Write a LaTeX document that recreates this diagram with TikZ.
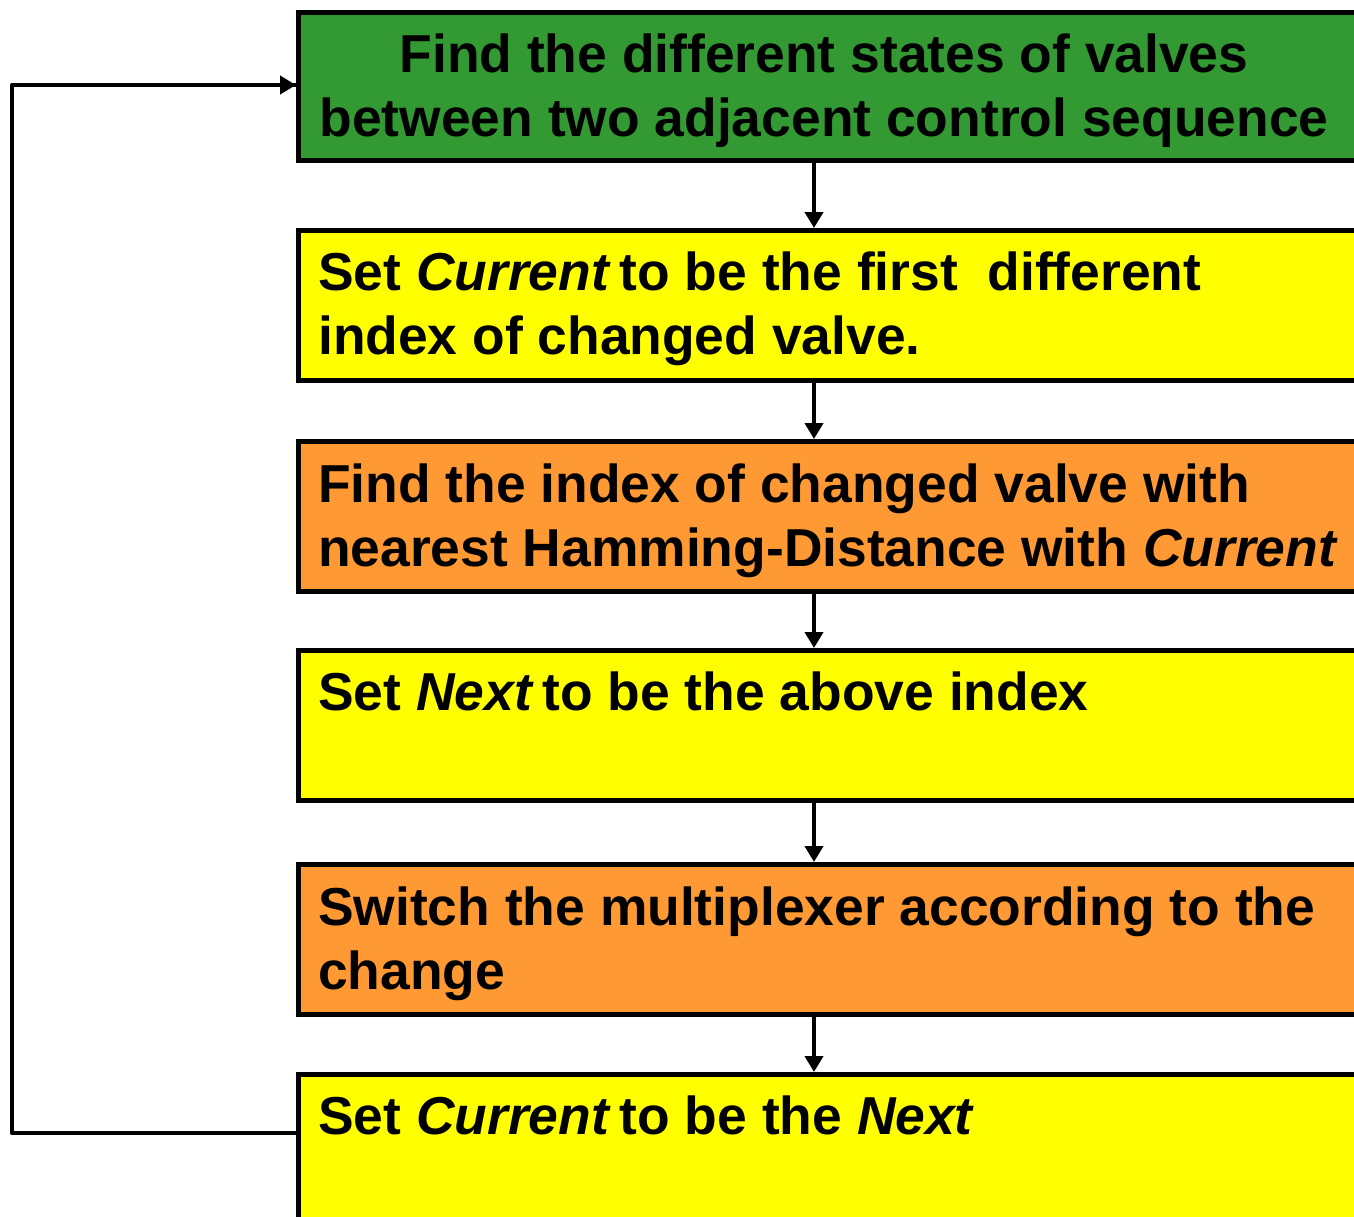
\documentclass[tikz,border=0pt]{standalone}
\usepackage{fontspec}
\setmainfont{Liberation Sans}
\usetikzlibrary{arrows.meta,calc}
\definecolor{stepgreen}{HTML}{339933}
\definecolor{stepyellow}{HTML}{FFFF00}
\definecolor{steporange}{HTML}{FF9933}
\newcommand{\flowtext}[1]{\parbox[t]{1100pt}{\fontsize{53.4}{64}\selectfont\bfseries #1}}
\newcommand{\flowtextc}[1]{\parbox[t]{1100pt}{\centering\fontsize{53.4}{64}\selectfont\bfseries #1}}
\begin{document}
\begin{tikzpicture}[x=1pt,y=-1pt,
  stepbox/.style={draw=black, line width=4.5pt, rectangle, anchor=north west,
    minimum width=1200pt, inner sep=0pt},
  steptext/.style={anchor=base west, inner sep=0pt},
  arr/.style={draw=black, line width=4.5pt,
    -{Triangle[length=16pt,width=18pt]}},
  loopline/.style={draw=black, line width=4.5pt, line join=round}]
  \useasboundingbox (0,0) rectangle (1354,1216);
  \clip (0,0) rectangle (1354,1216);
  \fill[white] (0,0) rectangle (1354,1216);

  % process boxes
  \node[stepbox, fill=stepgreen,  minimum height=148pt] (b1) at (296,10) {};
  \node[stepbox, fill=stepyellow, minimum height=150pt] (b2) at (296,228) {};
  \node[stepbox, fill=steporange, minimum height=150pt] (b3) at (296,439) {};
  \node[stepbox, fill=stepyellow, minimum height=150pt] (b4) at (296,648) {};
  \node[stepbox, fill=steporange, minimum height=150pt] (b5) at (296,862) {};
  \node[stepbox, fill=stepyellow, minimum height=180pt] (b6) at (296,1072) {};

  % box texts
  \node[anchor=base, inner sep=0pt] (t1) at (824,72)
    {\flowtextc{Find the different states of valves\\between two adjacent control sequence}};
  \node[steptext] (t2) at (318,290)
    {\flowtext{Set \textit{Current}\,to be the first\ \ different\\index of changed valve.}};
  \node[steptext] (t3) at (318,502)
    {\flowtext{Find the index of changed valve with\\nearest Hamming-Distance with \textit{Current}}};
  \node[steptext] (t4) at (318,710)
    {\flowtext{Set \textit{Next}\,to be the above index}};
  \node[steptext] (t5) at (318,925)
    {\flowtext{Switch the multiplexer according to the\\change}};
  \node[steptext] (t6) at (318,1134)
    {\flowtext{Set \textit{Current}\,to be the \textit{Next}}};

  % downward connectors
  \coordinate (axis) at (814,0);
  \draw[arr] (b1.south -| axis) -- (b2.north -| axis);
  \draw[arr] (b2.south -| axis) -- (b3.north -| axis);
  \draw[arr] (b3.south -| axis) -- (b4.north -| axis);
  \draw[arr] (b4.south -| axis) -- (b5.north -| axis);
  \draw[arr] (b5.south -| axis) -- (b6.north -| axis);

  % loop back to the first step
  \coordinate (loopout) at (296,1133);
  \coordinate (loopin) at (296,85);
  \coordinate (lowcorner) at (12,1133);
  \coordinate (highcorner) at (12,85);
  \draw[loopline] (loopout) -- (lowcorner) -- (highcorner) -- (loopin);
  \draw[arr] (highcorner) -- (b1.west |- loopin);
\end{tikzpicture}
\end{document}
